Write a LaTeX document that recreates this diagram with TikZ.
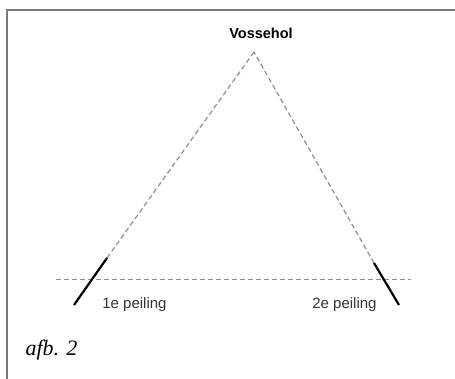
\documentclass[tikz,border=0pt]{standalone}
\usepackage{fontspec}
\setmainfont{Liberation Serif}
\setsansfont{Liberation Sans}
\usetikzlibrary{calc}
\definecolor{framecol}{HTML}{7A7A7A}
\definecolor{sightcol}{HTML}{909090}

\begin{document}
\begin{tikzpicture}[
    x=1pt, y=-1pt,
    frameline/.style={draw=framecol, line width=1.5pt},
    sightline/.style={draw=sightcol, line width=1.2pt, dash pattern=on 5pt off 3pt},
    bearing/.style={draw=black, line width=2.2pt},
    place/.style={font=\sffamily\bfseries\fontsize{14.5}{16}\selectfont, inner sep=0pt},
    tag/.style={font=\sffamily\fontsize{15}{17}\selectfont, text=black!80, inner sep=0pt},
    caption/.style={font=\itshape\fontsize{22}{24}\selectfont, inner sep=0pt},
  ]

  \useasboundingbox (0,0) rectangle (455,379);

  % =========================================================
  %  frame
  % =========================================================
  \draw[frameline] (7,386) -- (7,10) -- (462,10);

  % =========================================================
  %  bearing points
  % =========================================================
  \coordinate (top) at (254,52);
  \coordinate (A0) at (74,305);   % 1e peiling, end
  \coordinate (A1) at (107,258);  % 1e peiling, start of dashes
  \coordinate (B0) at (399,305);  % 2e peiling, end
  \coordinate (B1) at (374,263);  % 2e peiling, start of dashes
  \coordinate (baseL) at (56,279.5);
  \coordinate (baseR) at (411,279.5);

  % sight lines towards the den
  \draw[sightline] (A1) -- (top);
  \draw[sightline] (B1) -- (top);
  % base line
  \draw[sightline] (baseL) -- (baseR);

  % measured bearings
  \draw[bearing] (A0) -- (A1);
  \draw[bearing] (B0) -- (B1);

  % labels
  \node[place] (den) at (261,33) {Vossehol};
  \node[tag] (p1) at (134.5,305) {1e peiling};
  \node[tag] (p2) at (344.5,305) {2e peiling};
  \node[caption] (afb) at (51.5,350) {afb. 2};

\end{tikzpicture}
\end{document}
